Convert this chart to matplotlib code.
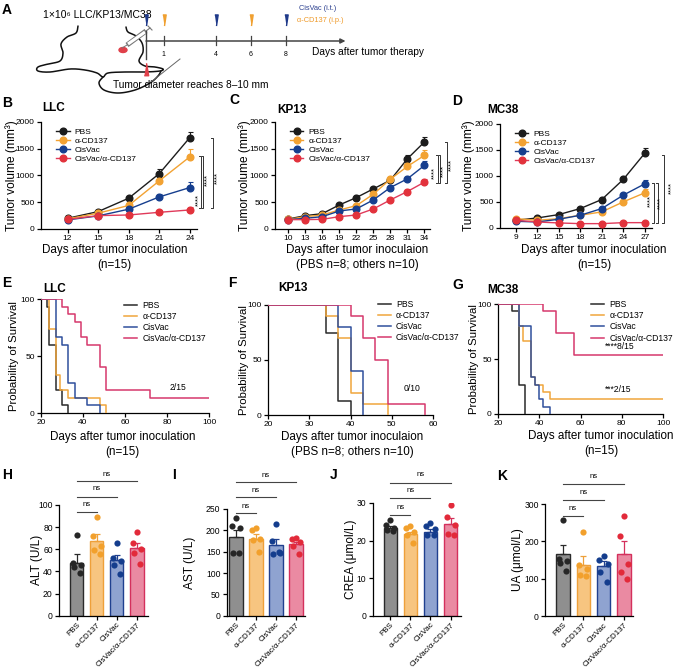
import numpy as np
import matplotlib

matplotlib.use("Agg")
import matplotlib.pyplot as plt
from matplotlib.lines import Line2D
from matplotlib.patches import Ellipse

plt.rcParams["font.family"] = ["Liberation Sans", "DejaVu Sans"]
plt.rcParams["axes.linewidth"] = 0.9
plt.rcParams["xtick.major.width"] = 0.9
plt.rcParams["ytick.major.width"] = 0.9
plt.rcParams["xtick.major.size"] = 3
plt.rcParams["ytick.major.size"] = 3
plt.rcParams["xtick.major.pad"] = 1.5
plt.rcParams["ytick.major.pad"] = 1.5

W, H = 680, 669

# ---- data ---------------------------------------------------------------
GROUPS = ["PBS", "α-CD137", "CisVac", "CisVac/α-CD137"]

# B: LLC tumor growth
B_DAYS = [12, 15, 18, 21, 24]
B_MEAN = [[200, 325, 575, 1035, 1710],
          [190, 295, 440, 900, 1350],
          [170, 245, 370, 600, 775],
          [180, 250, 262, 312, 356]]
B_SEM = [[15, 25, 35, 90, 110],
         [10, 20, 40, 70, 140],
         [10, 15, 25, 50, 100],
         [10, 15, 20, 40, 50]]

# C: KP13 tumor growth
C_DAYS = [10, 13, 16, 19, 22, 25, 28, 31, 34]
C_MEAN = [[187, 250, 287, 450, 587, 750, 912, 1312, 1625],
          [180, 231, 262, 356, 437, 650, 931, 1169, 1375],
          [175, 200, 231, 337, 375, 543, 775, 937, 1187],
          [175, 175, 181, 231, 262, 375, 543, 700, 875]]
C_SEM = [[15, 20, 25, 35, 40, 40, 50, 80, 100],
         [15, 20, 25, 30, 35, 40, 60, 70, 110],
         [10, 15, 20, 25, 30, 35, 40, 60, 80],
         [10, 15, 15, 20, 25, 30, 35, 40, 60]]

# D: MC38 tumor growth
D_DAYS = [9, 12, 15, 18, 21, 24, 27]
D_MEAN = [[148, 193, 258, 374, 548, 935, 1439],
          [180, 148, 180, 245, 310, 503, 677],
          [129, 116, 168, 245, 374, 632, 850],
          [148, 116, 97, 84, 84, 103, 103]]
D_SEM = [[20, 20, 25, 30, 40, 60, 90],
         [15, 20, 20, 25, 30, 40, 80],
         [15, 15, 20, 25, 30, 50, 80],
         [15, 10, 10, 10, 10, 15, 15]]

# significance brackets (x in days, y span) and "****" positions
B_BRACKETS = [(25.07, 398, 1370), (25.32, 398, 1370), (26.24, 398, 1695)]
B_STARS = [(24.83, 542), (25.76, 916), (26.73, 960)]
C_BRACKETS = [(36.35, 854, 1383), (36.78, 854, 1383), (38.0, 854, 1632)]
C_STARS = [(35.82, 1050), (37.36, 1080), (38.9, 1190)]
D_BRACKETS = [(28.25, 96, 865), (28.8, 96, 865), (29.63, 96, 1404)]
D_STARS = [(27.83, 515), (29.2, 480), (30.74, 770)]

# E-G: survival (time in days, % surviving)
E_T = [[20, 23, 24, 27, 30, 33],
       [20, 24, 27, 29, 33, 48, 51],
       [20, 27, 30, 33, 36, 42, 48],
       [20, 30, 33, 36, 39, 42, 48, 51, 72, 100]]
E_S = [[100, 93.3, 60, 20, 6.7, 0],
       [100, 73.3, 33.3, 20, 13.3, 6.7, 0],
       [100, 66.7, 60, 26.7, 13.3, 6.7, 0],
       [100, 93.3, 86.7, 80, 66.7, 60, 40, 20, 13.3, 13.3]]
F_T = [[20, 34, 37, 40],
       [20, 34, 37, 40, 43, 49],
       [20, 37, 40, 43],
       [20, 40, 43, 46, 49, 58]]
F_S = [[100, 75, 12.5, 0],
       [100, 90, 70, 20, 10, 0],
       [100, 80, 40, 0],
       [100, 90, 70, 50, 10, 0]]
G_T = [[20, 27, 30, 33],
       [20, 30, 32, 36, 38, 42, 45, 100],
       [20, 30, 36, 38, 40, 42, 45],
       [20, 42, 48, 57, 100]]
G_S = [[100, 93.3, 26.7, 0],
       [100, 80, 66.7, 33.3, 26.7, 20, 13.3, 13.3],
       [100, 80, 33.3, 26.7, 13.3, 6.7, 0],
       [100, 93.3, 73.3, 53.3, 53.3]]

# H-K: serum biochemistry (bar = mean, err = SEM, 5 mice)
H_MEAN = [48, 67.5, 50.5, 61]
H_SEM = [7.5, 6, 4.5, 5]
H_PTS = [[72.5, 48, 46, 44, 39], [89, 72, 63, 59, 56],
         [66, 52, 49, 46, 38], [76, 66, 60, 57, 47]]
I_MEAN = [185, 180, 165, 167]
I_SEM = [15, 11, 14, 6]
I_PTS = [[228, 211, 205, 148, 148], [206, 200, 180, 177, 150],
         [216, 175, 148, 144, 150], [183, 180, 172, 164, 144]]
J_MEAN = [23.3, 21.7, 22.4, 24.4]
J_SEM = [0.5, 0.7, 0.6, 1.5]
J_PTS = [[25.5, 24.2, 23.3, 22.9, 22.6], [23.8, 23.3, 22.4, 21.5, 19.3],
         [24.7, 23.8, 23.1, 21.5, 21.4], [29.4, 26.4, 24.2, 21.7, 21.5]]
K_MEAN = [165, 137, 135, 167]
K_SEM = [25, 24, 12, 33]
K_PTS = [[258, 153, 147, 141, 121], [224, 137, 126, 110, 106],
         [162, 150, 139, 117, 92], [269, 213, 140, 117, 99]]

# ---- styling ------------------------------------------------------------
LINE_C = ["#1c1c1c", "#f2a232", "#163e8e", "#e2323c"]
LINE_LC = ["#1c1c1c", "#f2a232", "#163e8e", "#e03a5a"]
SURV_C = ["#2a2a2a", "#f0a63c", "#2f4f9c", "#d6386c"]
BAR_FILL = ["#8f8f8f", "#f7c580", "#8fa3d0", "#ea8aa2"]
BAR_EDGE = ["#2a2a2a", "#eea03a", "#20408f", "#d4305c"]
DOT_C = ["#262626", "#f2a02c", "#143d8d", "#e22a3a"]
DOT_OFF = [0.0, -0.2, 0.2, -0.15, 0.15]

fig = plt.figure(figsize=(W / 100, H / 100), dpi=100)


def box(l, t, r, b):
    return fig.add_axes([l / W, 1 - b / H, (r - l) / W, (b - t) / H])


def ftext(x, y, s, **kw):
    fig.text(x / W, 1 - y / H, s, va="center", **kw)


def letter(x, y, s):
    ftext(x, y, s, fontsize=10, fontweight="bold")


def title(x, y, s):
    ftext(x, y, s, fontsize=8.5, fontweight="bold")


def prism(ax):
    for sp in ("top", "right"):
        ax.spines[sp].set_visible(False)
    ax.tick_params(labelsize=6)


def growth(ax, days, mean, sem, xlim, xlabel, lab, brackets, stars):
    for k in range(4):
        ax.errorbar(days, mean[k], yerr=[np.zeros(len(days)), sem[k]],
                    color=LINE_LC[k], mfc=LINE_C[k], mec=LINE_C[k],
                    marker="o", ms=4.8, lw=1.0, elinewidth=0.8,
                    capsize=1.8, capthick=0.8, zorder=3)
    prism(ax)
    ax.set_xlim(*xlim)
    ax.set_ylim(0, 2000)
    ax.set_xticks(days)
    ax.set_yticks([0, 500, 1000, 1500, 2000])
    ax.set_xlabel(xlabel, fontsize=8.4, linespacing=1.3, va="top")
    ax.xaxis.set_label_coords(lab[0], lab[1])
    ax.set_ylabel("Tumor volume (mm³)", fontsize=8.6)
    ax.yaxis.set_label_coords(lab[2], 0.5)
    handles = [Line2D([], [], color=LINE_LC[k], mfc=LINE_C[k], mec=LINE_C[k],
                      marker="o", ms=4.8, lw=1.0) for k in range(4)]
    ax.legend(handles, GROUPS, loc="upper left", bbox_to_anchor=(0.06, 1.0),
              frameon=False, fontsize=6, handlelength=1.6, labelspacing=0.15,
              handletextpad=0.6, borderpad=0.2)
    dx = (xlim[1] - xlim[0]) * 0.01
    for x, y0, y1 in brackets:
        ax.plot([x - dx, x, x, x - dx], [y1, y1, y0, y0], color="#333333",
                lw=0.7, clip_on=False)
    for x, y in stars:
        ax.text(x, y, "****", rotation=90, fontsize=5.5, ha="center",
                va="center", clip_on=False)


def survival(ax, ts, ss, xlim, xticks, xlabel, lab, leg):
    for k in range(4):
        ax.step(ts[k], ss[k], where="post", color=SURV_C[k], lw=1.1,
                zorder=3 + (k == 3))
    prism(ax)
    ax.set_xlim(*xlim)
    ax.set_ylim(0, 100)
    ax.set_xticks(xticks)
    ax.set_yticks([0, 50, 100])
    ax.set_xlabel(xlabel, fontsize=8.4, linespacing=1.3, va="top")
    ax.xaxis.set_label_coords(lab[0], lab[1])
    ax.set_ylabel("Probability of Survival", fontsize=8.2)
    ax.yaxis.set_label_coords(lab[2], 0.5)
    handles = [Line2D([], [], color=SURV_C[k], lw=1.1) for k in range(4)]
    ax.legend(handles, GROUPS, loc="upper left", bbox_to_anchor=leg,
              frameon=False, fontsize=6.2, handlelength=1.5, labelspacing=0.25,
              handletextpad=0.6, borderpad=0.2)


def bars(ax, mean, sem, pts, ymax, yticks, ylabel, xlim, ns_line, ns_text,
         lab_x):
    x = np.arange(4)
    ax.bar(x, mean, width=0.66, color=BAR_FILL, edgecolor=BAR_EDGE,
           linewidth=1.0, zorder=2)
    for i in range(4):
        ax.errorbar(x[i], mean[i], yerr=[[0], [sem[i]]], color=BAR_EDGE[i],
                    lw=0.9, capsize=2.2, capthick=0.9, zorder=3)
        ax.scatter(x[i] + np.array(DOT_OFF), pts[i], s=20, color=DOT_C[i],
                   linewidths=0, zorder=4)
    prism(ax)
    ax.set_xlim(*xlim)
    ax.set_ylim(0, ymax)
    ax.set_yticks(yticks)
    ax.set_xticks(x)
    ax.set_xticklabels(GROUPS, rotation=45, ha="right", rotation_mode="anchor",
                       fontsize=5.8)
    ax.tick_params(axis="y", labelsize=6.2)
    ax.tick_params(axis="x", pad=1)
    ax.set_ylabel(ylabel, fontsize=8.6)
    ax.yaxis.set_label_coords(lab_x, 0.5)
    for j in range(3):
        ax.plot([0, j + 1], [ns_line[j]] * 2, color="#444444", lw=0.8,
                clip_on=False)
        ax.text((j + 1) / 2, ns_text[j], "ns", fontsize=5.5, ha="center",
                va="center", clip_on=False)


# ---- A: schematic -------------------------------------------------------
ov = box(0, 0, W, 95)
ov.set_xlim(0, W)
ov.set_ylim(95, 0)
ov.axis("off")


def smooth(pts, n=12):
    p = np.array(pts, dtype=float)
    p = np.vstack([p[0], p, p[-1]])
    out = []
    for i in range(1, len(p) - 2):
        p0, p1, p2, p3 = p[i - 1], p[i], p[i + 1], p[i + 2]
        for t in np.linspace(0, 1, n, endpoint=False):
            out.append(0.5 * ((2 * p1) + (-p0 + p2) * t
                              + (2 * p0 - 5 * p1 + 4 * p2 - p3) * t ** 2
                              + (-p0 + 3 * p1 - 3 * p2 + p3) * t ** 3))
    out.append(p[-2])
    return np.array(out)


mouse = [(78, 26), (76, 33), (67, 37), (61, 44), (63, 53), (60, 61), (48, 64),
         (38, 67), (38, 71), (50, 72), (70, 69), (85, 70), (97, 73), (103, 77),
         (108, 73), (125, 72), (145, 72), (160, 71), (163, 69), (155, 67),
         (145, 66), (139, 61), (143, 52), (142, 43), (136, 36), (128, 32),
         (126, 27)]
belly = [(103, 77), (99, 83), (104, 90), (118, 93), (135, 90), (150, 83),
         (158, 76), (161, 71)]
for path in (mouse, belly):
    s = smooth(path)
    ov.plot(s[:, 0], s[:, 1], color="#111111", lw=1.1, solid_capstyle="round")
ov.plot([127, 146], [45, 31], color="#777777", lw=3.6, solid_capstyle="butt")
ov.plot([128, 145], [44, 32], color="white", lw=2.2, solid_capstyle="butt")
ov.plot([146, 150], [31, 28], color="#777777", lw=0.8)
ov.plot([148, 152], [26, 30], color="#777777", lw=0.8)
ov.plot([122, 127], [48, 45], color="#777777", lw=0.7)
ov.add_patch(Ellipse((123, 50), 8, 5, color="#e0404a"))
ov.plot([151, 180], [82, 59], color="#666666", lw=0.7)
ov.text(43, 15, "1×10⁶ LLC/KP13/MC38", fontsize=7.5, va="center")
ov.text(113, 85, "Tumor diameter reaches 8–10 mm", fontsize=7.3, va="center")
ov.text(312, 52, "Days after tumor therapy", fontsize=7.3, va="center")
ov.text(299, 8, "CisVac (i.t.)", fontsize=5.3, color="#2b3f8f", va="center")
ov.text(297, 21, "α-CD137 (i.p.)", fontsize=5.3, color="#ef9a2a",
        va="center")
letter(2, 10, "A")

CIS_DAYS = [0, 4, 8]
ANTI_DAYS = [1, 6]
TICK_DAYS = [1, 4, 6, 8]
tl = box(146 - 17.5, 0, 146 + 17.5 * 12, 95)
tl.set_xlim(-1, 12)
tl.set_ylim(95, 0)
tl.axis("off")
tl.annotate("", xy=(11.4, 41), xytext=(0, 41),
            arrowprops=dict(arrowstyle="-|>", color="#444444", lw=1.1,
                            mutation_scale=7, shrinkA=0, shrinkB=0))
tl.plot([0, 0], [31, 59], color="#444444", lw=1.0)
for d in TICK_DAYS:
    tl.plot([d, d], [36, 45], color="#444444", lw=0.9)
    tl.text(d, 54, str(d), fontsize=5, ha="center", va="center")
wedge_dn = [(-0.3, 1), (0.3, 1), (0, -1)]
wedge_up = [(-0.35, -1), (0.35, -1), (0, 1)]
tl.plot(CIS_DAYS, [20] * len(CIS_DAYS), ls="none", marker=wedge_dn, ms=8,
        color="#1f3a8a")
tl.plot(ANTI_DAYS, [20] * len(ANTI_DAYS), ls="none", marker=wedge_dn, ms=8,
        color="#f0a030")
tl.plot([0], [69], ls="none", marker=wedge_up, ms=9, color="#e0404a")

# ---- B-D: tumor growth --------------------------------------------------
ax = box(41, 122, 197, 229)
growth(ax, B_DAYS, B_MEAN, B_SEM, (9.4, 24.7),
       "Days after tumor inoculation\n(n=15)", (0.47, -0.14, -0.15),
       B_BRACKETS, B_STARS)
title(42, 108, "LLC")
letter(2, 103, "B")

ax = box(275, 122, 430, 229)
growth(ax, C_DAYS, C_MEAN, C_SEM, (7.65, 35.0),
       "Days after tumor inoculaion\n(PBS n=8; others n=10)",
       (0.53, -0.14, -0.155), C_BRACKETS, C_STARS)
title(277, 110, "KP13")
letter(229, 100, "C")

ax = box(500, 124, 652, 228)
growth(ax, D_DAYS, D_MEAN, D_SEM, (6.8, 28.0),
       "Days after tumor inoculation\n(n=15)", (0.62, -0.155, -0.165),
       D_BRACKETS, D_STARS)
title(487, 110, "MC38")
letter(452, 101, "D")

# ---- E-G: survival ------------------------------------------------------
ax = box(41, 299, 209, 413)
survival(ax, E_T, E_S, (20, 100), [20, 40, 60, 80, 100],
         "Days after tumor inoculation\n(n=15)", (0.485, -0.16, -0.13),
         (0.46, 1.035))
ax.text(85, 22, "2/15", fontsize=6.2, ha="center", va="center")
title(43, 289, "LLC")
letter(2, 283, "E")

ax = box(268, 305, 433, 415)
survival(ax, F_T, F_S, (20, 60), [20, 30, 40, 50, 60],
         "Days after tumor inoculaion\n(PBS n=8; others n=10)",
         (0.51, -0.145, -0.115), (0.63, 1.1))
ax.text(55, 24.5, "0/10", fontsize=6.2, ha="center", va="center")
title(278, 288, "KP13")
letter(228, 283, "F")

ax = box(498, 304, 663, 414)
survival(ax, G_T, G_S, (20, 100), [20, 40, 60, 80, 100],
         "Days after tumor inoculation\n(n=15)", (0.625, -0.145, -0.115),
         (0.53, 1.09))
ax.text(72, 61, "****8/15", fontsize=6.2, ha="left", va="center")
ax.text(72, 22, "***2/15", fontsize=6.2, ha="left", va="center")
title(487, 290, "MC38")
letter(452, 285, "G")

# ---- H-K: serum biochemistry --------------------------------------------
ax = box(59, 505, 148, 615.7)
bars(ax, H_MEAN, H_SEM, H_PTS, 100, [0, 20, 40, 60, 80, 100], "ALT (U/L)",
     (-0.88, 3.55), [94, 107.5, 121.7], [100, 114.5, 127.7], -0.18)
letter(2, 475, "H")

ax = box(226.7, 509, 305, 615.7)
bars(ax, I_MEAN, I_SEM, I_PTS, 250, [0, 50, 100, 150, 200, 250], "AST (U/L)",
     (-0.47, 3.45), [241, 277, 314], [257, 294, 329], -0.39)
letter(172, 475, "I")

ax = box(372.7, 503, 460.7, 615.7)
bars(ax, J_MEAN, J_SEM, J_PTS, 30, [0, 10, 20, 30], "CREA (μmol/L)",
     (-0.87, 3.5), [26.7, 31.2, 35.4], [28.8, 33.2, 37.5], -0.18)
letter(330, 475, "J")

ax = box(545, 504, 633, 616)
bars(ax, K_MEAN, K_SEM, K_PTS, 300, [0, 100, 200, 300], "UA (μmol/L)",
     (-0.88, 3.45), [268.6, 311.6, 354.5], [289, 332, 374], -0.24)
letter(497, 476, "K")

fig.savefig("out.png", dpi=100)
